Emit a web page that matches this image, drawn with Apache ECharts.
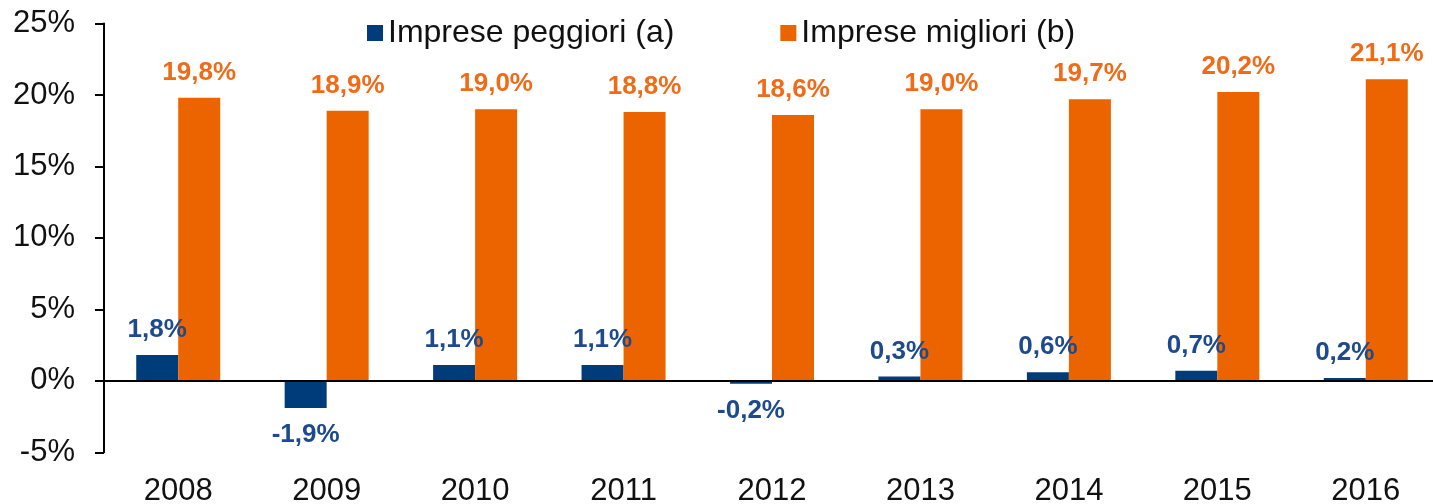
<!DOCTYPE html>
<html>
<head>
<meta charset="utf-8">
<title>Imprese peggiori / migliori</title>
<script src="https://cdn.jsdelivr.net/npm/echarts@6/dist/echarts.min.js"></script>
<style>
  html, body {
    margin: 0;
    padding: 0;
    background: #fff;
  }
  #myChart {
    width: 1433px;
    height: 504px;
  }
</style>
</head>
<body>
<div id="myChart"></div>
<script>
var years = ['2008', '2009', '2010', '2011', '2012', '2013', '2014', '2015', '2016'];
var peggiori = [1.8, -1.9, 1.1, 1.1, -0.2, 0.3, 0.6, 0.7, 0.2];
var migliori = [19.8, 18.9, 19.0, 18.8, 18.6, 19.0, 19.7, 20.2, 21.1];
var seriesNames = ['Imprese peggiori (a)', 'Imprese migliori (b)'];

var fontFamily = '"Liberation Sans", Arial, sans-serif';

function fmt(v) {
  return v.toFixed(1).replace('.', ',') + '%';
}

// negative bars get their label underneath
function withLabels(values) {
  return values.map(function (v) {
    return {
      value: v,
      label: { position: v < 0 ? 'bottom' : 'top', distance: v < 0 ? 14 : 12 }
    };
  });
}

function initChart() {
  var chartDom = document.getElementById('myChart');
  var myChart = echarts.init(chartDom);
  var option;

  option = {
    animation: false,
    textStyle: { fontFamily: fontFamily },
    legend: {
      left: 362,
      top: 12,
      itemWidth: 16,
      itemHeight: 16,
      itemGap: 106,
      icon: 'rect',
      textStyle: { fontSize: 32, color: '#111', fontFamily: fontFamily },
      data: seriesNames
    },
    grid: {
      left: 104,
      top: 23.5,
      width: 1336,
      height: 428.8,
      containLabel: false,
      outerBoundsMode: 'none'
    },
    xAxis: {
      type: 'category',
      data: years,
      axisLine: { show: false, onZero: false },
      axisTick: { show: false },
      axisLabel: {
        margin: 24,
        fontSize: 31,
        color: '#111',
        fontFamily: fontFamily
      }
    },
    yAxis: {
      type: 'value',
      min: -5,
      max: 25,
      interval: 5,
      splitLine: { show: false },
      axisLine: { show: true, lineStyle: { color: '#000', width: 2 } },
      axisTick: { show: true, length: 9, lineStyle: { color: '#000', width: 2 } },
      axisLabel: {
        margin: 29,
        fontSize: 31,
        color: '#111',
        fontFamily: fontFamily,
        formatter: '{value}%'
      }
    },
    series: [
      {
        name: seriesNames[0],
        type: 'bar',
        barWidth: 42,
        barGap: 0,
        itemStyle: { color: '#003b7a' },
        label: {
          show: true,
          fontSize: 26,
          fontWeight: 'bold',
          color: '#1d4a8c',
          fontFamily: fontFamily,
          formatter: function (p) { return fmt(p.value); }
        },
        data: withLabels(peggiori),
        markLine: {
          silent: true,
          symbol: 'none',
          label: { show: false },
          lineStyle: { color: '#000', width: 2, type: 'solid' },
          data: [{ yAxis: 0 }]
        }
      },
      {
        name: seriesNames[1],
        type: 'bar',
        barWidth: 42,
        barGap: 0,
        itemStyle: { color: '#eb6400' },
        label: {
          show: true,
          fontSize: 26,
          fontWeight: 'bold',
          color: '#f06b18',
          fontFamily: fontFamily,
          formatter: function (p) { return fmt(p.value); }
        },
        data: withLabels(migliori)
      }
    ]
  };
  option && myChart.setOption(option);
}

initChart();
</script>
</body>
</html>
